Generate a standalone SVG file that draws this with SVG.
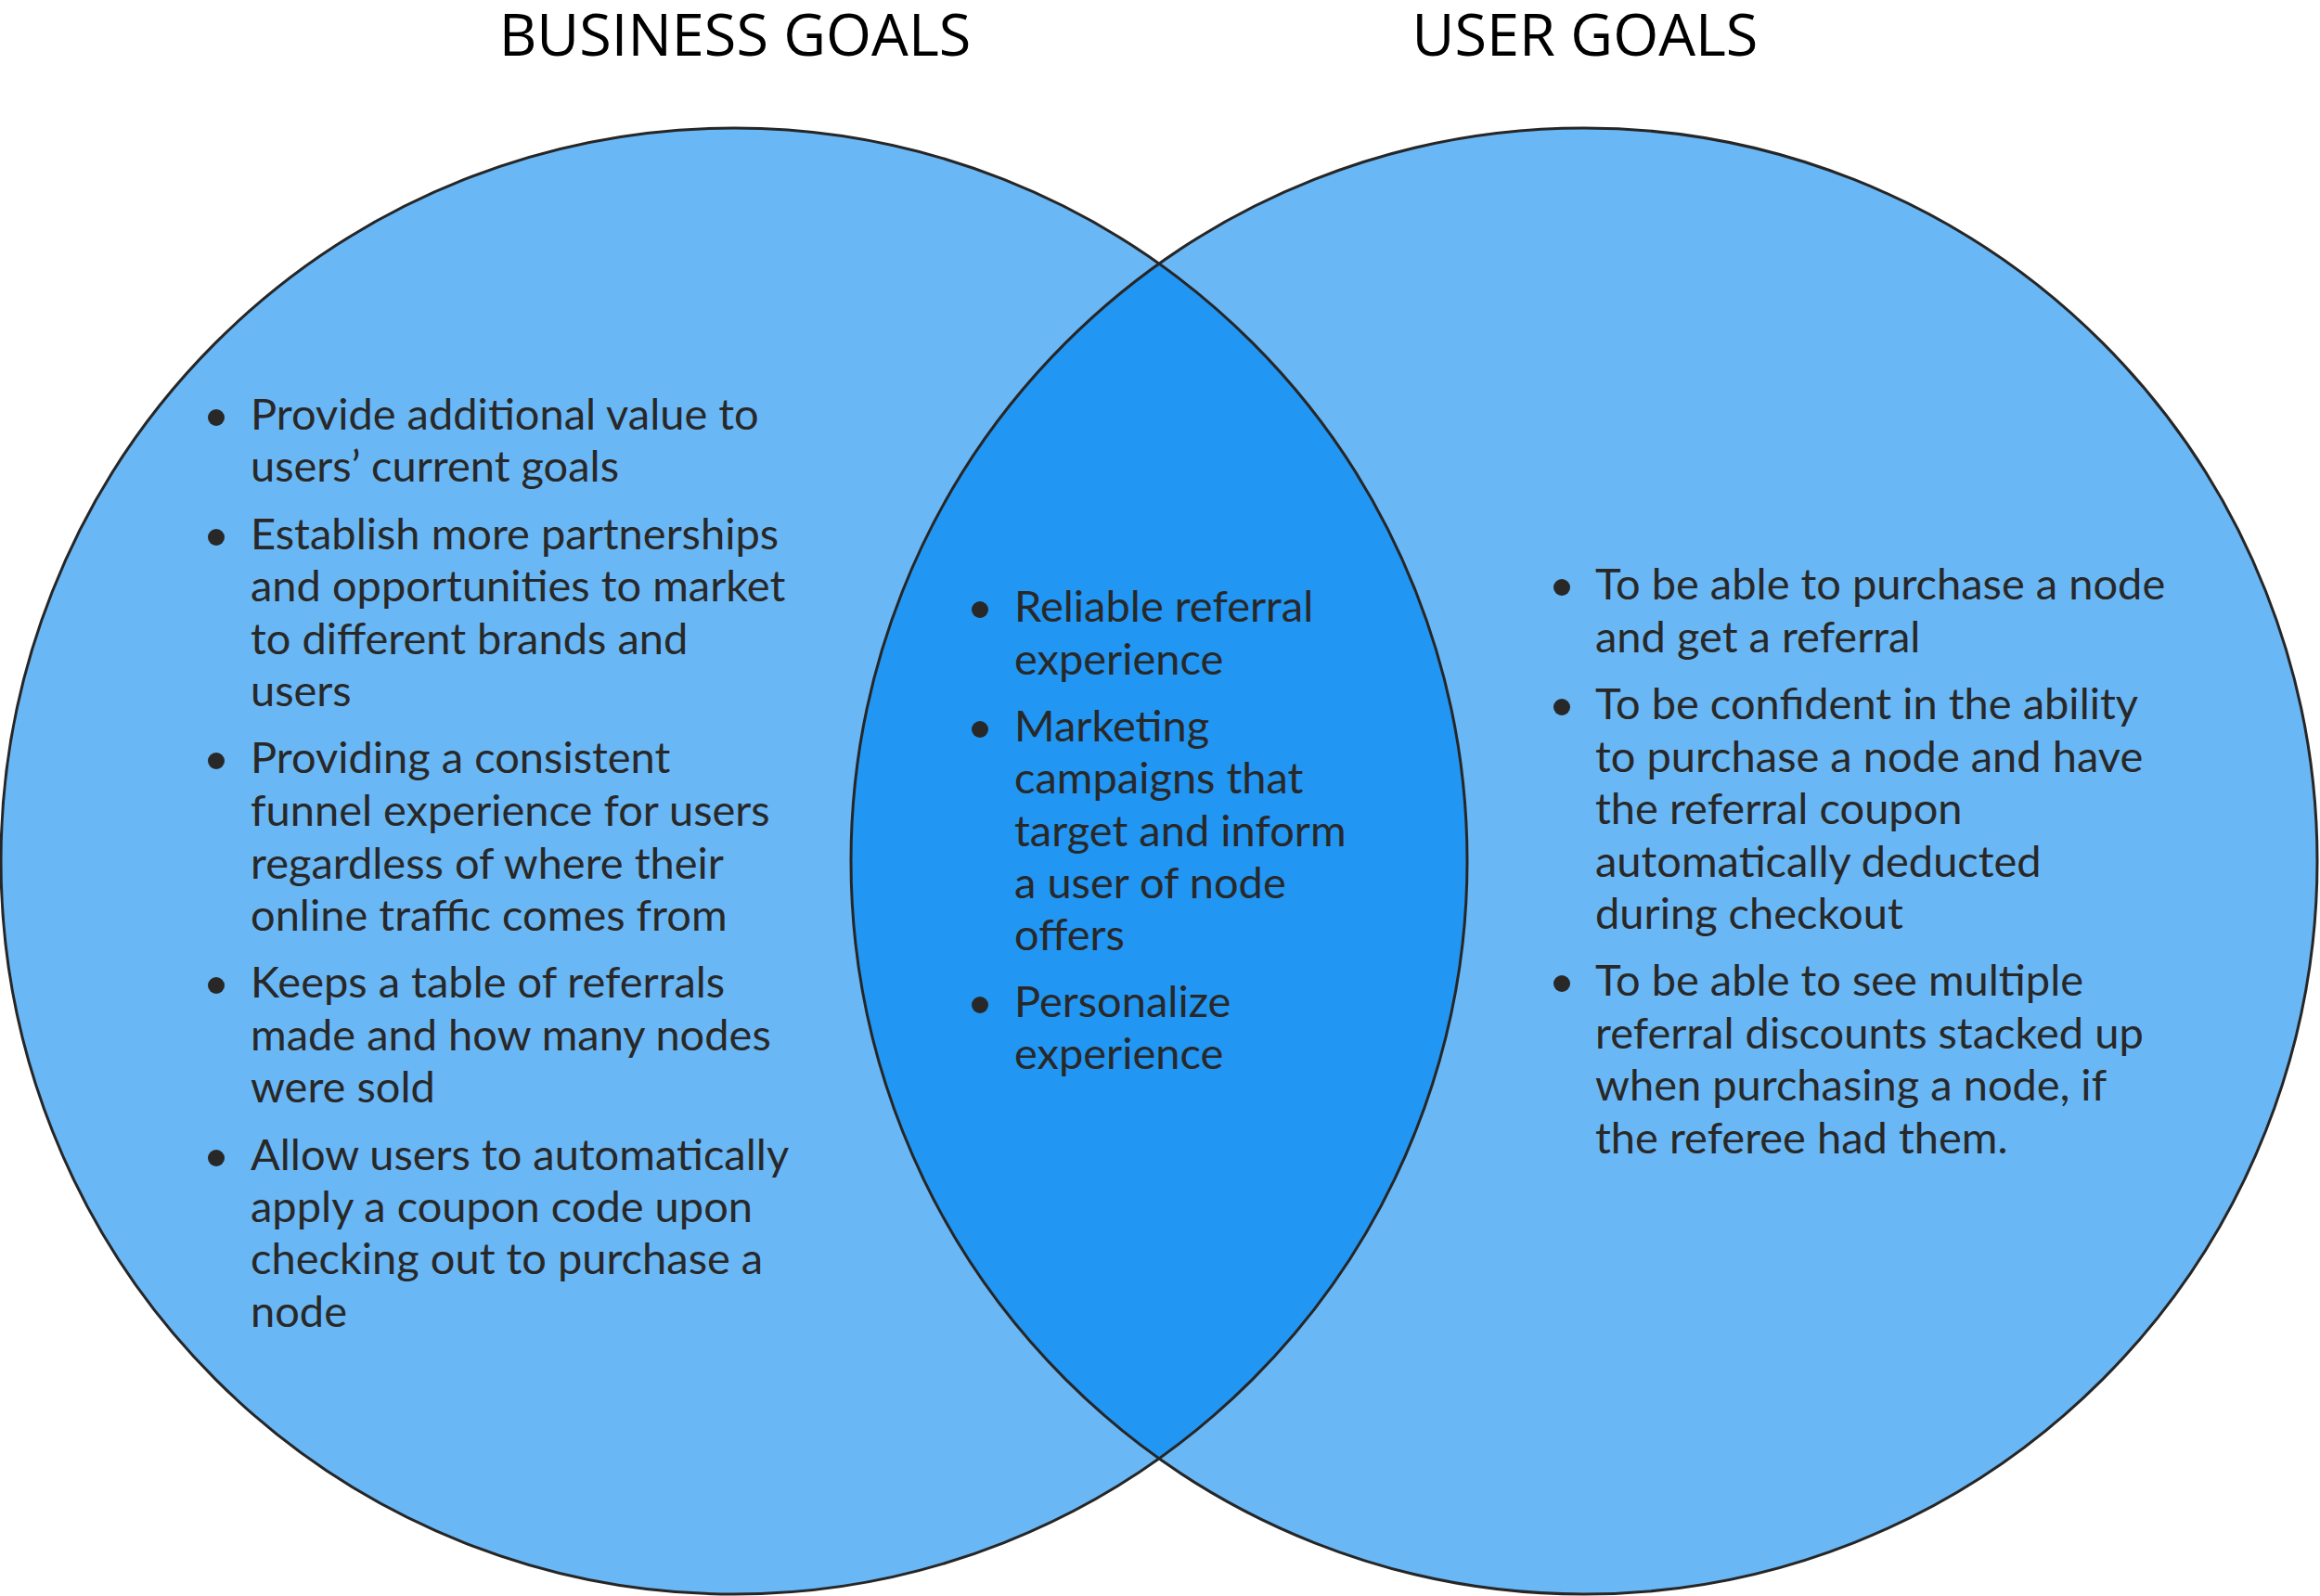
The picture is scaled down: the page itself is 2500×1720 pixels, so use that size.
<svg xmlns="http://www.w3.org/2000/svg" width="2500" height="1720" viewBox="0 0 2500 1720">
<style>
.title{font-family:"Open Sans","DejaVu Sans",sans-serif;font-size:63px;fill:#000;text-anchor:middle}
.body{font-family:Lato,"Open Sans",sans-serif;font-size:47px;fill:#282828}
.fill{fill:#6AB7F5;stroke:none}
.lens{fill:#2196F3;stroke:none}
.edge{fill:none;stroke:#262626;stroke-width:3}
.dot{fill:#282828}
</style>
<rect width="2500" height="1720" fill="#fff"/>
<g id="circles">
<circle class="fill" cx="791" cy="928" r="790"/>
<circle class="fill" cx="1707" cy="928" r="790"/>
<path class="lens" d="M1249,284.3 A790,790 0 0 1 1249,1571.7 A790,790 0 0 1 1249,284.3 Z"/>
<circle class="edge" cx="791" cy="928" r="790"/>
<circle class="edge" cx="1707" cy="928" r="790"/>
</g>
<g id="titles">
<text class="title" x="792" y="60">BUSINESS GOALS</text>
<text class="title" x="1708" y="60">USER GOALS</text>
</g>
<g id="business-goals">
<circle class="dot" cx="233" cy="450" r="9"/>
<circle class="dot" cx="233" cy="579" r="9"/>
<circle class="dot" cx="233" cy="820" r="9"/>
<circle class="dot" cx="233" cy="1062" r="9"/>
<circle class="dot" cx="233" cy="1248" r="9"/>
<text class="body">
<tspan x="270" y="463">Provide additional value to</tspan>
<tspan x="270" y="519">users’ current goals</tspan>
<tspan x="270" y="592">Establish more partnerships</tspan>
<tspan x="270" y="648">and opportunities to market</tspan>
<tspan x="270" y="705">to different brands and</tspan>
<tspan x="270" y="761">users</tspan>
<tspan x="270" y="833">Providing a consistent</tspan>
<tspan x="270" y="890">funnel experience for users</tspan>
<tspan x="270" y="947">regardless of where their</tspan>
<tspan x="270" y="1003">online traffic comes from</tspan>
<tspan x="270" y="1075">Keeps a table of referrals</tspan>
<tspan x="270" y="1132">made and how many nodes</tspan>
<tspan x="270" y="1188">were sold</tspan>
<tspan x="270" y="1261">Allow users to automatically</tspan>
<tspan x="270" y="1317">apply a coupon code upon</tspan>
<tspan x="270" y="1373">checking out to purchase a</tspan>
<tspan x="270" y="1430">node</tspan>
</text>
</g>
<g id="shared-goals">
<circle class="dot" cx="1056" cy="657" r="9"/>
<circle class="dot" cx="1056" cy="786" r="9"/>
<circle class="dot" cx="1056" cy="1083" r="9"/>
<text class="body">
<tspan x="1093" y="670">Reliable referral</tspan>
<tspan x="1093" y="727">experience</tspan>
<tspan x="1093" y="799">Marketing</tspan>
<tspan x="1093" y="855">campaigns that</tspan>
<tspan x="1093" y="912">target and inform</tspan>
<tspan x="1093" y="968">a user of node</tspan>
<tspan x="1093" y="1024">offers</tspan>
<tspan x="1093" y="1096">Personalize</tspan>
<tspan x="1093" y="1152">experience</tspan>
</text>
</g>
<g id="user-goals">
<circle class="dot" cx="1683" cy="633" r="9"/>
<circle class="dot" cx="1683" cy="762" r="9"/>
<circle class="dot" cx="1683" cy="1060" r="9"/>
<text class="body">
<tspan x="1719" y="646">To be able to purchase a node</tspan>
<tspan x="1719" y="703">and get a referral</tspan>
<tspan x="1719" y="775">To be confident in the ability</tspan>
<tspan x="1719" y="832">to purchase a node and have</tspan>
<tspan x="1719" y="888">the referral coupon</tspan>
<tspan x="1719" y="945">automatically deducted</tspan>
<tspan x="1719" y="1001">during checkout</tspan>
<tspan x="1719" y="1073">To be able to see multiple</tspan>
<tspan x="1719" y="1130">referral discounts stacked up</tspan>
<tspan x="1719" y="1186">when purchasing a node, if</tspan>
<tspan x="1719" y="1243">the referee had them.</tspan>
</text>
</g>
<g id="connectors"/>
</svg>
